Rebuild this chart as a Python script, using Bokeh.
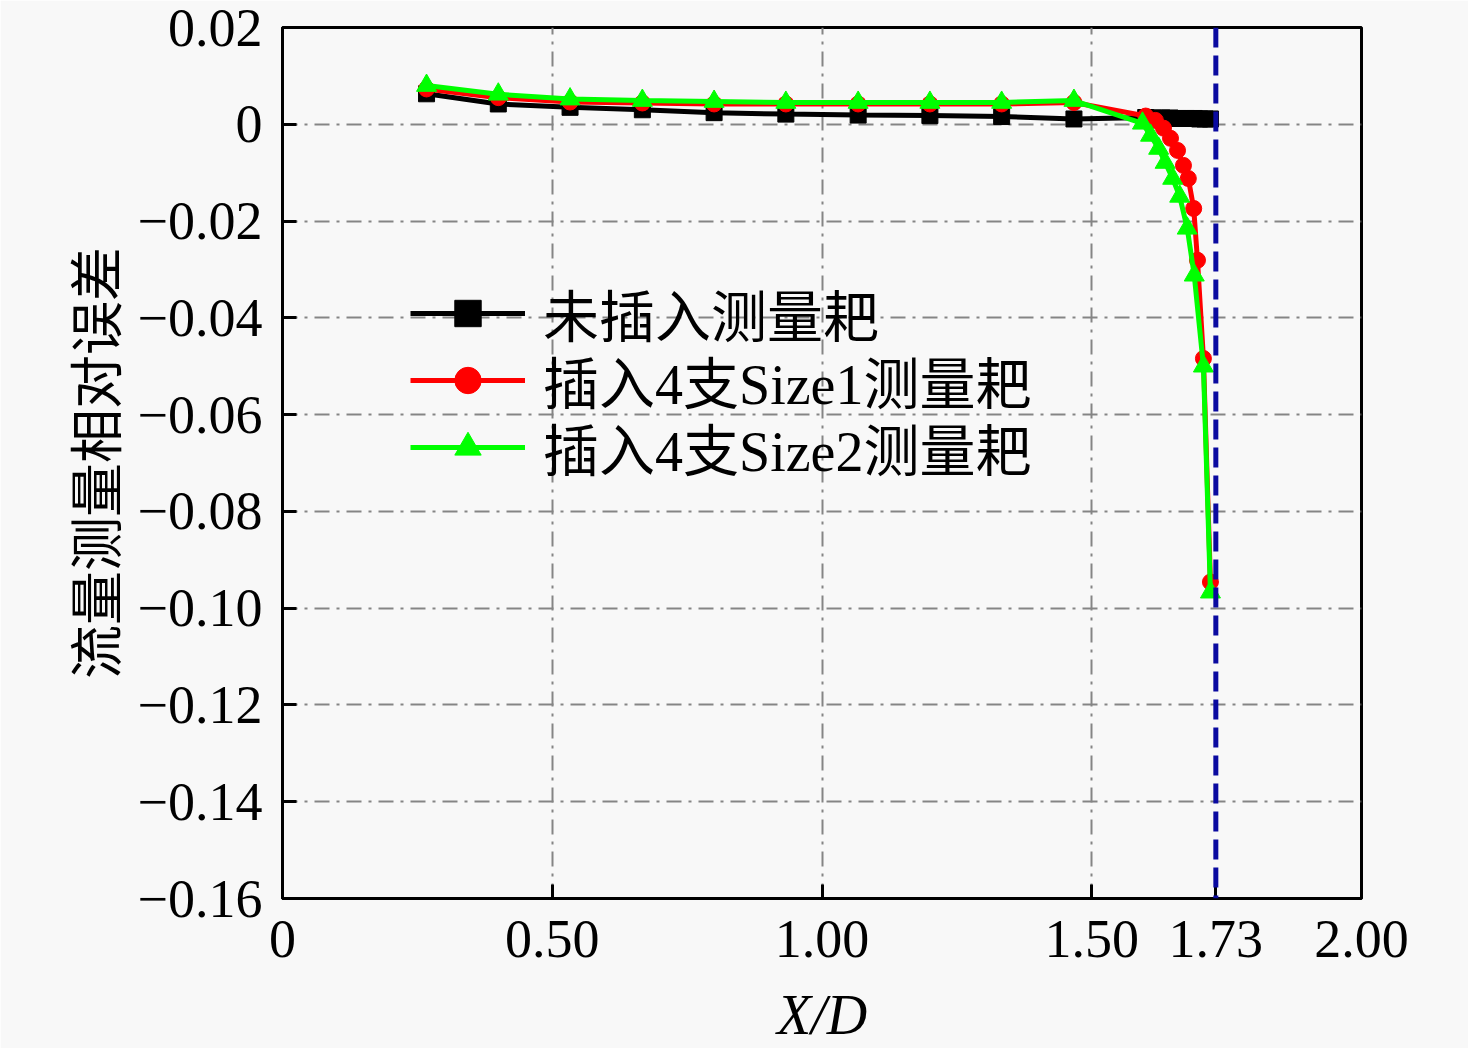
from bokeh.plotting import figure
from bokeh.models import FixedTicker, Span, Legend, LegendItem
from bokeh.embed import file_html
from bokeh.resources import INLINE

# ---------------- data ----------------
x_main = [0.267, 0.400, 0.533, 0.667, 0.800, 0.933, 1.067, 1.200, 1.333, 1.467]

# 未插入测量耙
x_black = x_main + [1.600, 1.615, 1.630, 1.645, 1.660, 1.675, 1.690, 1.700, 1.710, 1.720]
y_black = [0.0063, 0.0042, 0.0035, 0.0030, 0.0024, 0.0021, 0.0019, 0.0018, 0.0016, 0.0011,
           0.0014, 0.0013, 0.0013, 0.0013, 0.0012, 0.0012, 0.0012, 0.0011, 0.0011, 0.0011]

# 插入4支Size1测量耙
x_red = x_main + [1.600, 1.618, 1.633, 1.646, 1.659, 1.670, 1.679, 1.689, 1.696, 1.707, 1.720]
y_red = [0.0073, 0.0055, 0.0046, 0.0044, 0.0042, 0.0042, 0.0042, 0.0042, 0.0042, 0.0045,
         0.0017, 0.0008, -0.0008, -0.0029, -0.0054, -0.0085, -0.0112, -0.0174, -0.0281, -0.0484, -0.0946]

# 插入4支Size2测量耙
x_green = x_main + [1.594, 1.609, 1.624, 1.636, 1.650, 1.663, 1.677, 1.690, 1.707, 1.720]
y_green = [0.0080, 0.0062, 0.0052, 0.0049, 0.0047, 0.0045, 0.0045, 0.0045, 0.0045, 0.0049,
           0.0002, -0.0023, -0.0050, -0.0079, -0.0112, -0.0149, -0.0215, -0.0312, -0.0500, -0.0967]

series_labels = ["未插入测量耙", "插入4支Size1测量耙", "插入4支Size2测量耙"]

x_ticks = [0, 0.5, 1.0, 1.5, 1.73, 2.0]
x_tick_labels = ["0", "0.50", "1.00", "1.50", "1.73", "2.00"]
x_grid_ticks = [0.5, 1.0, 1.5]
y_ticks = [0.02, 0.0, -0.02, -0.04, -0.06, -0.08, -0.10, -0.12, -0.14, -0.16]
y_tick_labels = ["0.02", "0", "−0.02", "−0.04", "−0.06", "−0.08", "−0.10", "−0.12", "−0.14", "−0.16"]
critical_x = 1.73

x_label = "X/D"
y_label = "流量测量相对误差"

# ---------------- figure ----------------
BG = "#f8f8f8"
SERIF = "'Liberation Serif', 'Noto Sans CJK SC'"

p = figure(frame_width=1079, frame_height=871,
           x_range=(0, 2), y_range=(-0.16, 0.02),
           output_backend="svg", toolbar_location=None,
           min_border_left=282, min_border_right=107,
           min_border_top=27, min_border_bottom=145,
           background_fill_color=BG, border_fill_color=BG)

p.outline_line_color = "black"
p.outline_line_width = 3

# grids
p.xgrid.ticker = FixedTicker(ticks=x_grid_ticks)
p.ygrid.ticker = FixedTicker(ticks=y_ticks)
for g in (p.xgrid, p.ygrid):
    g.grid_line_color = "#858585"
    g.grid_line_width = 2
    g.grid_line_dash = "15 7 3 7"

# axes
p.xaxis.ticker = FixedTicker(ticks=x_ticks)
p.xaxis.major_label_overrides = {t: s for t, s in zip(x_ticks, x_tick_labels)}
p.yaxis.ticker = FixedTicker(ticks=y_ticks)
p.yaxis.major_label_overrides = {t: s for t, s in zip(y_ticks, y_tick_labels)}
for ax in (p.xaxis, p.yaxis):
    ax.axis_line_color = "black"
    ax.axis_line_width = 3
    ax.major_tick_in = 14
    ax.major_tick_out = 0
    ax.major_tick_line_width = 3
    ax.minor_tick_line_color = None
    ax.major_label_text_font = SERIF
    ax.major_label_text_font_size = "54px"
    ax.major_label_text_color = "black"
    ax.axis_label_text_font = SERIF
    ax.axis_label_text_font_size = "54px"
    ax.axis_label_text_color = "black"
    ax.axis_label_text_font_style = "normal"

p.xaxis.major_label_standoff = 22
p.yaxis.major_label_standoff = 20
p.xaxis.axis_label = x_label
p.xaxis.axis_label_text_font_style = "italic"
p.xaxis.axis_label_text_font_size = "56px"
p.xaxis.axis_label_standoff = 24
p.yaxis.axis_label = y_label
p.yaxis.axis_label_standoff = 6

# series
rb_l = p.line(x_black, y_black, line_color="black", line_width=5)
rb_s = p.scatter(x_black, y_black, marker="square", size=16, fill_color="black", line_color="black")

rr_l = p.line(x_red, y_red, line_color="#ff0000", line_width=5)
rr_s = p.scatter(x_red, y_red, marker="circle", size=16, fill_color="#ff0000", line_color="#ff0000")

rg_l = p.line(x_green, y_green, line_color="#00ff00", line_width=5)
rg_s = p.scatter(x_green, y_green, marker="triangle", size=20, fill_color="#00ff00", line_color="#00ff00")

# critical line
p.add_layout(Span(location=critical_x, dimension="height", line_color="#0a0aa0",
                  line_width=5, line_dash="20 8", level="overlay"))

# legend: one row per legend object so that the row pitch matches
rows = [(series_labels[0], [rb_l, rb_s], 545),
        (series_labels[1], [rr_l, rr_s], 478),
        (series_labels[2], [rg_l, rg_s], 411)]
for label, rends, ybot in rows:
    lg = Legend(items=[LegendItem(label=label, renderers=rends)],
                location=(128, ybot),
                background_fill_alpha=0, border_line_color=None,
                padding=0, margin=0, spacing=0,
                glyph_width=115, glyph_height=66, label_height=66,
                label_standoff=18, label_text_font=SERIF,
                label_text_font_size="56px", label_text_color="black")
    p.add_layout(lg, "center")

open("out.html", "w").write(file_html(p, INLINE))
